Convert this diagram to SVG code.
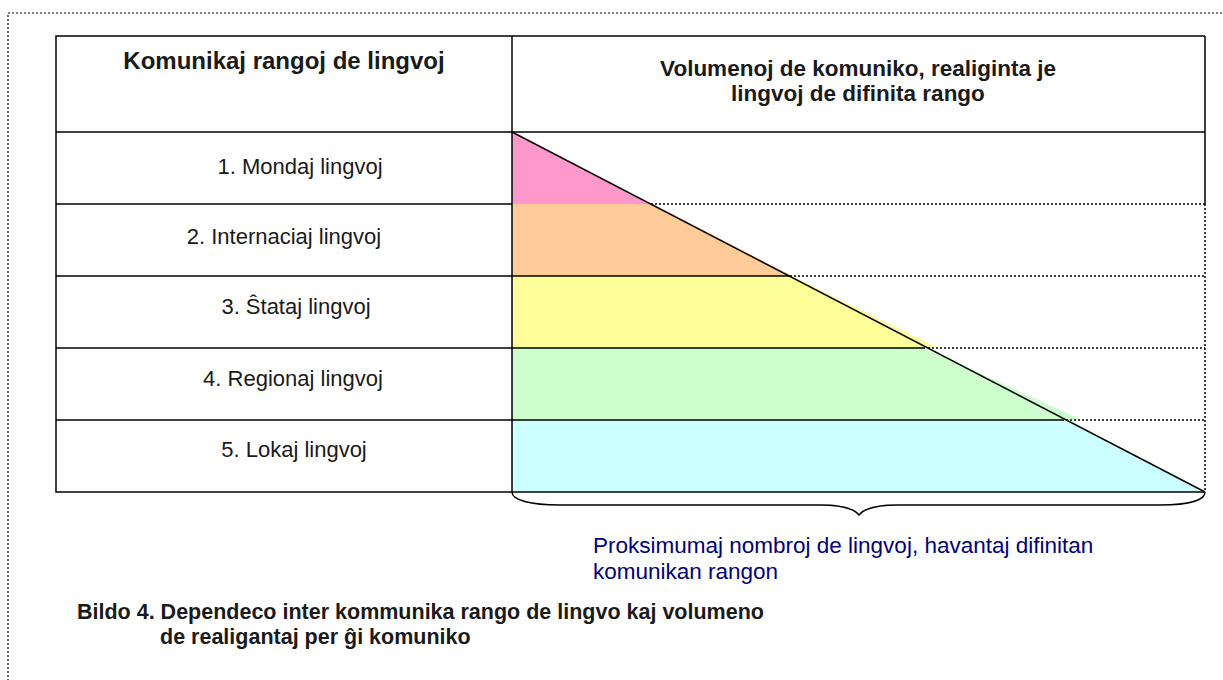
<svg xmlns="http://www.w3.org/2000/svg" width="1223" height="680" viewBox="0 0 1223 680">
<style>
.hdr{font-family:"Liberation Sans",Arial,sans-serif;font-weight:bold;font-size:22.5px;fill:#1a1a1a;text-anchor:middle}
.row{font-family:"Liberation Sans",Arial,sans-serif;font-size:22px;fill:#1a1a1a;text-anchor:middle}
.blue{font-family:"Liberation Sans",Arial,sans-serif;font-size:22.5px;fill:#000080}
.cap{font-family:"Liberation Sans",Arial,sans-serif;font-weight:bold;font-size:21.5px;fill:#1a1a1a}
.solid{stroke:#000;stroke-width:1.5;fill:none}
.dot{stroke:#000;stroke-width:1.5;stroke-dasharray:2 2;fill:none}
</style>
<rect x="8" y="13" width="1240" height="700" fill="none" stroke="#000" stroke-width="1.2" stroke-dasharray="2 2"/>
<g id="fills">
<polygon points="512,132 651,204 512,204" fill="#FF99CC"/>
<polygon points="512,204 653,204 792,276 512,276" fill="#FFCC99"/>
<polygon points="512,276 792,276 938,348 512,348" fill="#FFFF99"/>
<polygon points="512,348 924,348 1082,420 512,420" fill="#CCFFCC"/>
<polygon points="512,420 1066,420 1205,492 512,492" fill="#CCFFFF"/>
</g>
<g id="connectors">
<rect x="56" y="36" width="456" height="456" class="solid"/>
<line x1="512" y1="36" x2="1205" y2="36" class="solid"/>
<line x1="1205" y1="36" x2="1205" y2="204" class="solid"/>
<line x1="1205" y1="204" x2="1205" y2="492" class="dot"/>
<line x1="512" y1="132" x2="1205" y2="132" class="solid"/>
<line x1="56" y1="132" x2="512" y2="132" class="solid"/>
<line x1="56" y1="204" x2="512" y2="204" class="solid"/>
<line x1="56" y1="276" x2="512" y2="276" class="solid"/>
<line x1="56" y1="348" x2="512" y2="348" class="solid"/>
<line x1="56" y1="420" x2="512" y2="420" class="solid"/>
<line x1="651" y1="204" x2="1205" y2="204" class="dot"/>
<line x1="512" y1="276" x2="790" y2="276" class="solid"/>
<line x1="790" y1="276" x2="1205" y2="276" class="dot"/>
<line x1="512" y1="348" x2="925" y2="348" class="solid"/>
<line x1="928" y1="348" x2="1205" y2="348" class="dot"/>
<line x1="512" y1="420" x2="1064" y2="420" class="solid"/>
<line x1="1066" y1="420" x2="1205" y2="420" class="dot"/>
<line x1="512" y1="492" x2="1205" y2="492" class="solid"/>
<line x1="512" y1="132" x2="1205" y2="492" class="solid"/>
<path d="M512,492 C512,500 530,505 560,505 L820,505 C845,505 855,510 859,515 C863,510 873,505 898,505 L1160,505 C1190,505 1205,500 1205,492" class="solid"/>
</g>
<g id="header-left"><text x="284" y="69" class="hdr" style="font-size:24px">Komunikaj rangoj de lingvoj</text></g>
<g id="header-right"><text x="858" y="76" class="hdr">Volumenoj de komuniko, realiginta je</text><text x="858" y="101" class="hdr">lingvoj de difinita rango</text></g>
<g id="rank1"><text x="300" y="174" class="row">1. Mondaj lingvoj</text></g>
<g id="rank2"><text x="284" y="244" class="row">2. Internaciaj lingvoj</text></g>
<g id="rank3"><text x="296" y="314" class="row">3. Ŝtataj lingvoj</text></g>
<g id="rank4"><text x="293" y="386" class="row">4. Regionaj lingvoj</text></g>
<g id="rank5"><text x="294" y="457" class="row">5. Lokaj lingvoj</text></g>
<g id="note"><text x="593" y="553" class="blue">Proksimumaj nombroj de lingvoj, havantaj difinitan</text><text x="593" y="579" class="blue">komunikan rangon</text></g>
<g id="caption"><text x="77" y="619" class="cap">Bildo 4. Dependeco inter kommunika rango de lingvo kaj volumeno</text><text x="160" y="644" class="cap">de realigantaj per ĝi komuniko</text></g>
</svg>
